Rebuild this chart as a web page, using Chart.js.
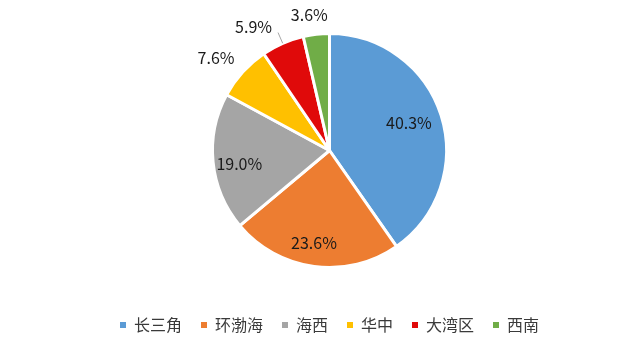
<!DOCTYPE html>
<html>
<head>
<meta charset="utf-8">
<script src="https://cdn.jsdelivr.net/npm/chart.js@4"></script>
<style>
html, body { margin: 0; padding: 0; background: #fff; }
#wrap { width: 640px; height: 341px; }
</style>
</head>
<body>
<div id="wrap"><canvas id="myChart"></canvas></div>
<script>
const regions = ['长三角', '环渤海', '海西', '华中', '大湾区', '西南'];
const shares = [40.3, 23.6, 19.0, 7.6, 5.9, 3.6];
const sliceColors = ['#5B9BD5', '#ED7D31', '#A5A5A5', '#FFC000', '#E00A0A', '#70AD47'];

// where each % label sits: distance in radii, small angle nudge in degrees
const labelDist = [0.72, 0.8, 0.78, 1.25, 1.24, 1.17];
const labelNudge = [-2, 2, -3, -3, -8, -2];

const pctLabels = {
    id: 'pctLabels',
    afterDatasetsDraw(chart) {
        const ctx = chart.ctx;
        const arcs = chart.getDatasetMeta(0).data;
        ctx.save();
        ctx.font = '16px "Noto Sans CJK SC"';
        ctx.fillStyle = '#1a1a1a';
        ctx.textAlign = 'center';
        ctx.textBaseline = 'middle';
        arcs.forEach((arc, i) => {
            const p = arc.getProps(['x', 'y', 'startAngle', 'endAngle', 'outerRadius'], true);
            const mid = (p.startAngle + p.endAngle) / 2;
            if (i === 4) {
                // leader line for the small red slice
                ctx.strokeStyle = '#a6a6a6';
                ctx.lineWidth = 1;
                ctx.beginPath();
                ctx.moveTo(p.x + Math.cos(mid) * p.outerRadius, p.y + Math.sin(mid) * p.outerRadius);
                ctx.lineTo(p.x + Math.cos(mid) * p.outerRadius * 1.1, p.y + Math.sin(mid) * p.outerRadius * 1.1);
                ctx.stroke();
            }
            const a = mid + labelNudge[i] * Math.PI / 180;
            const d = p.outerRadius * labelDist[i];
            ctx.fillText(shares[i].toFixed(1) + '%', p.x + Math.cos(a) * d, p.y + Math.sin(a) * d);
        });
        ctx.restore();
    }
};

const ctx = document.getElementById('myChart').getContext('2d');
const myChart = new Chart(ctx, {
    type: 'pie',
    data: {
        labels: regions,
        datasets: [{
            data: shares,
            backgroundColor: sliceColors,
            borderColor: '#ffffff',
            borderWidth: 3,
            radius: 117
        }]
    },
    options: {
        responsive: true,
        maintainAspectRatio: false,
        animation: false,
        layout: {
            padding: { left: 19, right: 0, top: 3, bottom: -2 }
        },
        plugins: {
            tooltip: { enabled: false },
            legend: {
                position: 'bottom',
                labels: {
                    boxWidth: 6,
                    boxHeight: 6,
                    padding: 19,
                    color: '#3a3a3a',
                    font: { family: '"Noto Sans CJK SC"', size: 16 },
                    generateLabels(chart) {
                        const items = Chart.controllers.pie.overrides.plugins.legend.labels.generateLabels(chart);
                        items.forEach(it => { it.lineWidth = 0; });
                        return items;
                    }
                }
            }
        }
    },
    plugins: [pctLabels]
});
</script>
</body>
</html>
